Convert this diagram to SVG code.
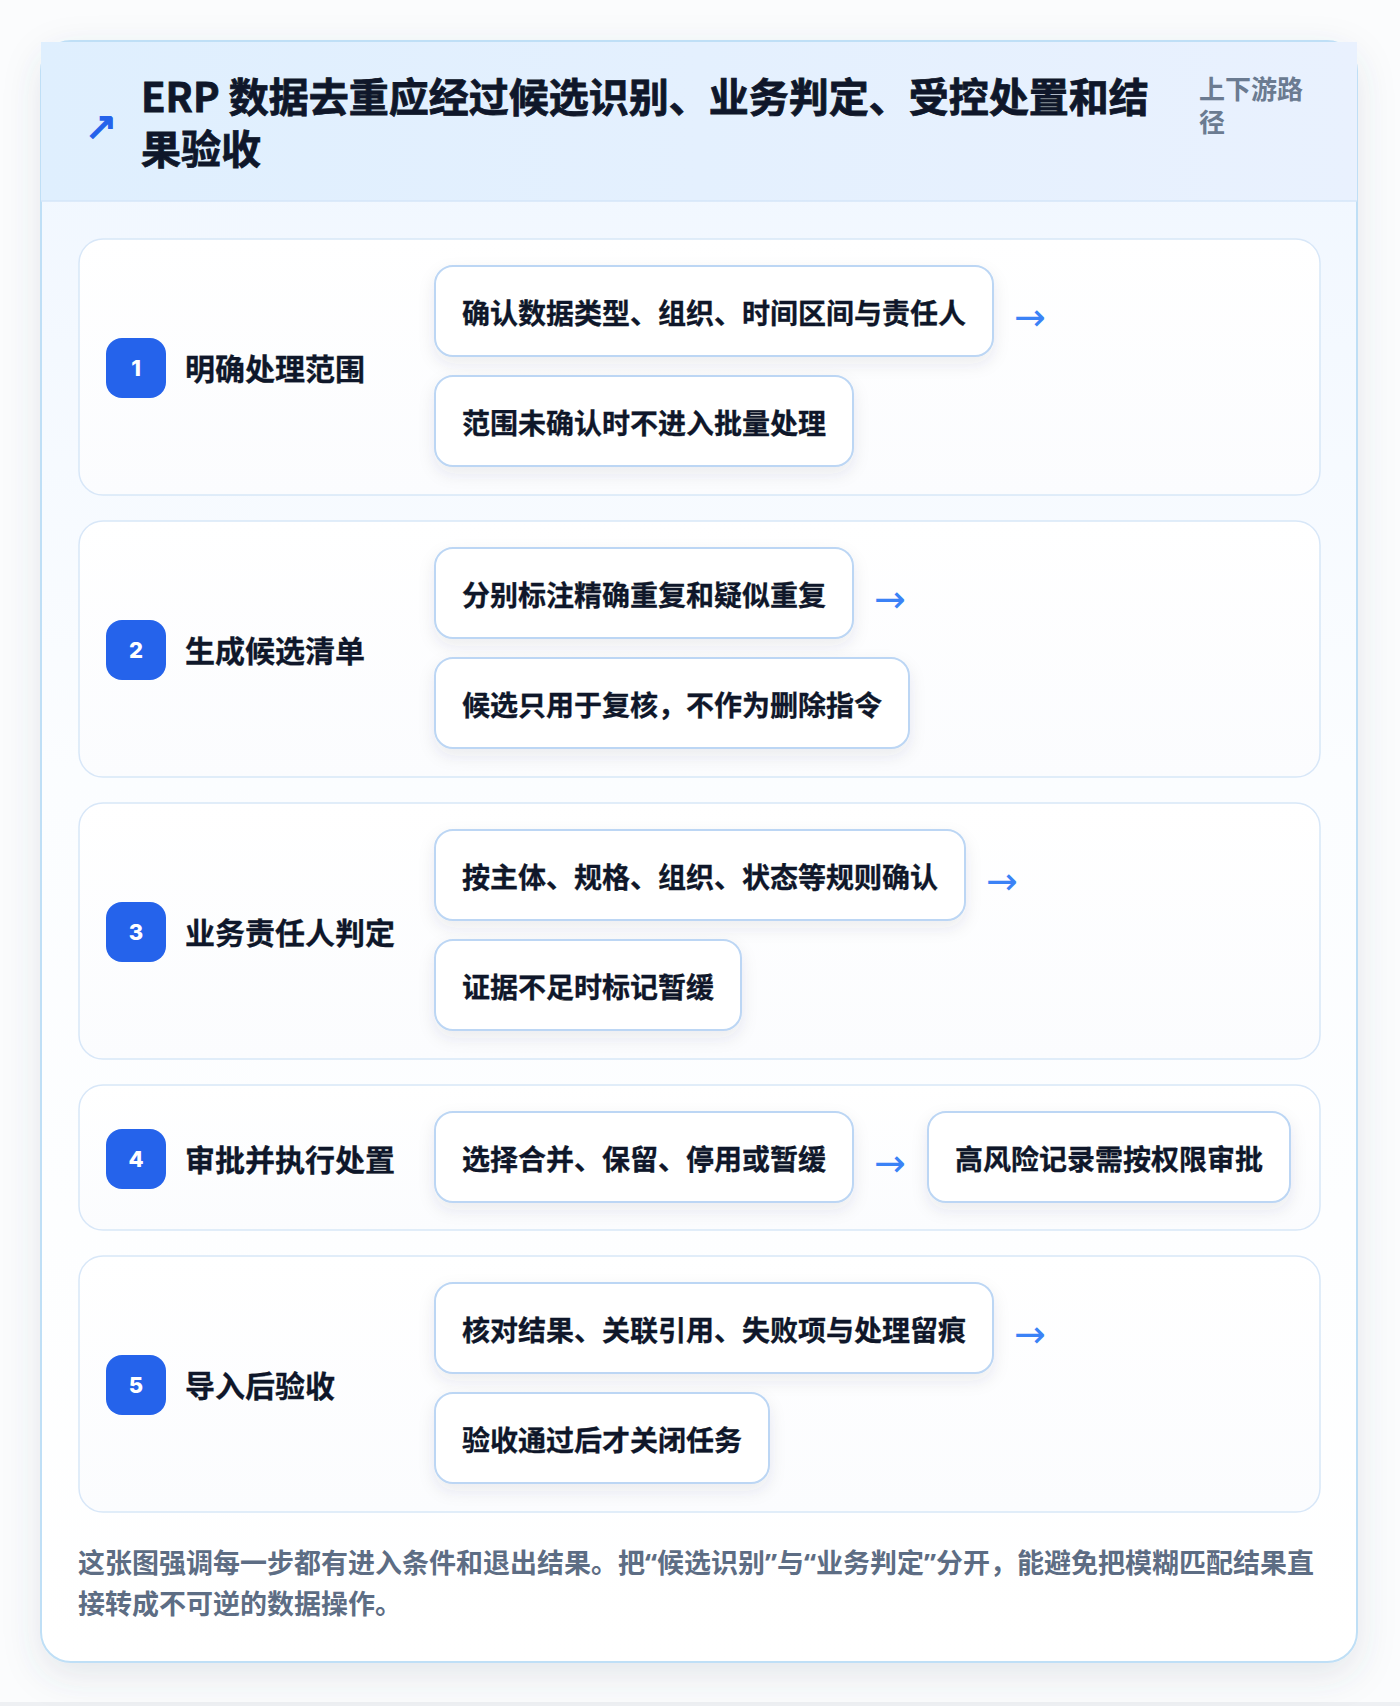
<svg xmlns="http://www.w3.org/2000/svg" width="1400" height="1706" viewBox="0 0 1400 1706">
<defs>
<linearGradient id="hdr" x1="0" y1="0" x2="1" y2="0">
<stop offset="0" stop-color="#dfeffe"/>
<stop offset="1" stop-color="#e9f1fe"/>
</linearGradient>
<linearGradient id="body" x1="0" y1="0" x2="0" y2="1">
<stop offset="0" stop-color="#eff6ff"/>
<stop offset="0.45" stop-color="#fbfdff"/>
<stop offset="1" stop-color="#ffffff"/>
</linearGradient>
<linearGradient id="step" x1="0" y1="0" x2="0" y2="1">
<stop offset="0" stop-color="#ffffff"/>
<stop offset="1" stop-color="#fbfcfe"/>
</linearGradient>
<filter id="cardShadow" x="-10%" y="-10%" width="120%" height="120%">
<feDropShadow dx="0" dy="12" stdDeviation="18" flood-color="#475569" flood-opacity="0.13"/>
</filter>
<filter id="itemShadow" x="-10%" y="-20%" width="120%" height="160%">
<feDropShadow dx="0" dy="7" stdDeviation="8" flood-color="#334155" flood-opacity="0.09"/>
</filter>
<style>
.t{font-family:"Noto Sans CJK SC","Noto Sans",sans-serif;font-weight:700}
.title{font-size:40px;fill:#0f172a;stroke:#0f172a;stroke-width:0.8}
.sub{font-size:26px;fill:#6b7b91}
.stepcard{fill:url(#step);stroke:#d8e7f8;stroke-width:1.5}
.item{fill:#ffffff;stroke:#bcd6f4;stroke-width:2;filter:url(#itemShadow)}
.itxt{font-size:28px;fill:#0f172a;stroke:#0f172a;stroke-width:0.3}
.lbl{font-size:30px;fill:#0f172a;stroke:#0f172a;stroke-width:0.3}
.badge{fill:#2563eb}
.num{font-family:Inter,"Noto Sans",sans-serif;font-weight:800;font-size:22px;fill:#ffffff;text-anchor:middle}
.arr{font-family:"DejaVu Sans",sans-serif;font-size:38px;fill:#3b82f6}
.icon{font-family:"DejaVu Sans",sans-serif;font-size:38px;fill:#2563eb;stroke:#2563eb;stroke-width:1.6}
.foot{font-size:27px;fill:#5d6d84}
.q{font-family:"Noto Sans","Liberation Sans",sans-serif}
</style>
</defs>
<rect x="0" y="0" width="1400" height="1706" fill="#fbfcfd"/>
<rect x="0" y="1702" width="1400" height="4" fill="#eef0f3"/>
<g id="frame">
<rect x="41" y="41" width="1316" height="1621" rx="30" fill="url(#body)" stroke="#bfdff6" stroke-width="2" filter="url(#cardShadow)"/>
<rect x="41" y="42" width="1316" height="159" fill="url(#hdr)"/>
<line x1="41" y1="201" x2="1357" y2="201" stroke="#d5e6f9" stroke-width="1.5"/>
</g>
<g id="header">
<text class="icon" x="85" y="139">↗</text>
<text class="t title" x="141" y="112">ERP 数据去重应经过候选识别、业务判定、受控处置和结</text>
<text class="t title" x="141" y="164">果验收</text>
<text class="t sub" x="1199" y="99">上下游路</text>
<text class="t sub" x="1199" y="132">径</text>
</g>
<g id="step1">
<rect class="stepcard" x="79" y="239" width="1241" height="256" rx="24"/>
<rect class="badge" x="106" y="338" width="60" height="60" rx="16"/>
<text class="num" x="136" y="376">1</text>
<text class="t lbl" x="185" y="380">明确处理范围</text>
<rect class="item" x="435" y="266" width="558" height="90" rx="18"/>
<text class="t itxt" x="462" y="324">确认数据类型、组织、时间区间与责任人</text>
<rect class="item" x="435" y="376" width="418" height="90" rx="18"/>
<text class="t itxt" x="462" y="434">范围未确认时不进入批量处理</text>
</g>
<g id="step2">
<rect class="stepcard" x="79" y="521" width="1241" height="256" rx="24"/>
<rect class="badge" x="106" y="620" width="60" height="60" rx="16"/>
<text class="num" x="136" y="658">2</text>
<text class="t lbl" x="185" y="662">生成候选清单</text>
<rect class="item" x="435" y="548" width="418" height="90" rx="18"/>
<text class="t itxt" x="462" y="606">分别标注精确重复和疑似重复</text>
<rect class="item" x="435" y="658" width="474" height="90" rx="18"/>
<text class="t itxt" x="462" y="716">候选只用于复核，不作为删除指令</text>
</g>
<g id="step3">
<rect class="stepcard" x="79" y="803" width="1241" height="256" rx="24"/>
<rect class="badge" x="106" y="902" width="60" height="60" rx="16"/>
<text class="num" x="136" y="940">3</text>
<text class="t lbl" x="185" y="944">业务责任人判定</text>
<rect class="item" x="435" y="830" width="530" height="90" rx="18"/>
<text class="t itxt" x="462" y="888">按主体、规格、组织、状态等规则确认</text>
<rect class="item" x="435" y="940" width="306" height="90" rx="18"/>
<text class="t itxt" x="462" y="998">证据不足时标记暂缓</text>
</g>
<g id="step4">
<rect class="stepcard" x="79" y="1085" width="1241" height="145" rx="24"/>
<rect class="badge" x="106" y="1129" width="60" height="60" rx="16"/>
<text class="num" x="136" y="1167">4</text>
<text class="t lbl" x="185" y="1171">审批并执行处置</text>
<rect class="item" x="435" y="1112" width="418" height="90" rx="18"/>
<text class="t itxt" x="462" y="1170">选择合并、保留、停用或暂缓</text>
<rect class="item" x="928" y="1112" width="362" height="90" rx="18"/>
<text class="t itxt" x="955" y="1170">高风险记录需按权限审批</text>
</g>
<g id="step5">
<rect class="stepcard" x="79" y="1256" width="1241" height="256" rx="24"/>
<rect class="badge" x="106" y="1355" width="60" height="60" rx="16"/>
<text class="num" x="136" y="1393">5</text>
<text class="t lbl" x="185" y="1397">导入后验收</text>
<rect class="item" x="435" y="1283" width="558" height="90" rx="18"/>
<text class="t itxt" x="462" y="1341">核对结果、关联引用、失败项与处理留痕</text>
<rect class="item" x="435" y="1393" width="334" height="90" rx="18"/>
<text class="t itxt" x="462" y="1451">验收通过后才关闭任务</text>
</g>
<g id="connectors">
<text class="arr" x="1014" y="330">→</text>
<text class="arr" x="874" y="612">→</text>
<text class="arr" x="986" y="894">→</text>
<text class="arr" x="874" y="1176">→</text>
<text class="arr" x="1014" y="1347">→</text>
</g>
<g id="footer">
<text class="t foot" x="78" y="1573">这张图强调每一步都有进入条件和退出结果。把<tspan class="q">“</tspan>候选识别<tspan class="q">”</tspan>与<tspan class="q">“</tspan>业务判定<tspan class="q">”</tspan>分开，能避免把模糊匹配结果直</text>
<text class="t foot" x="78" y="1614">接转成不可逆的数据操作。</text>
</g>
</svg>
